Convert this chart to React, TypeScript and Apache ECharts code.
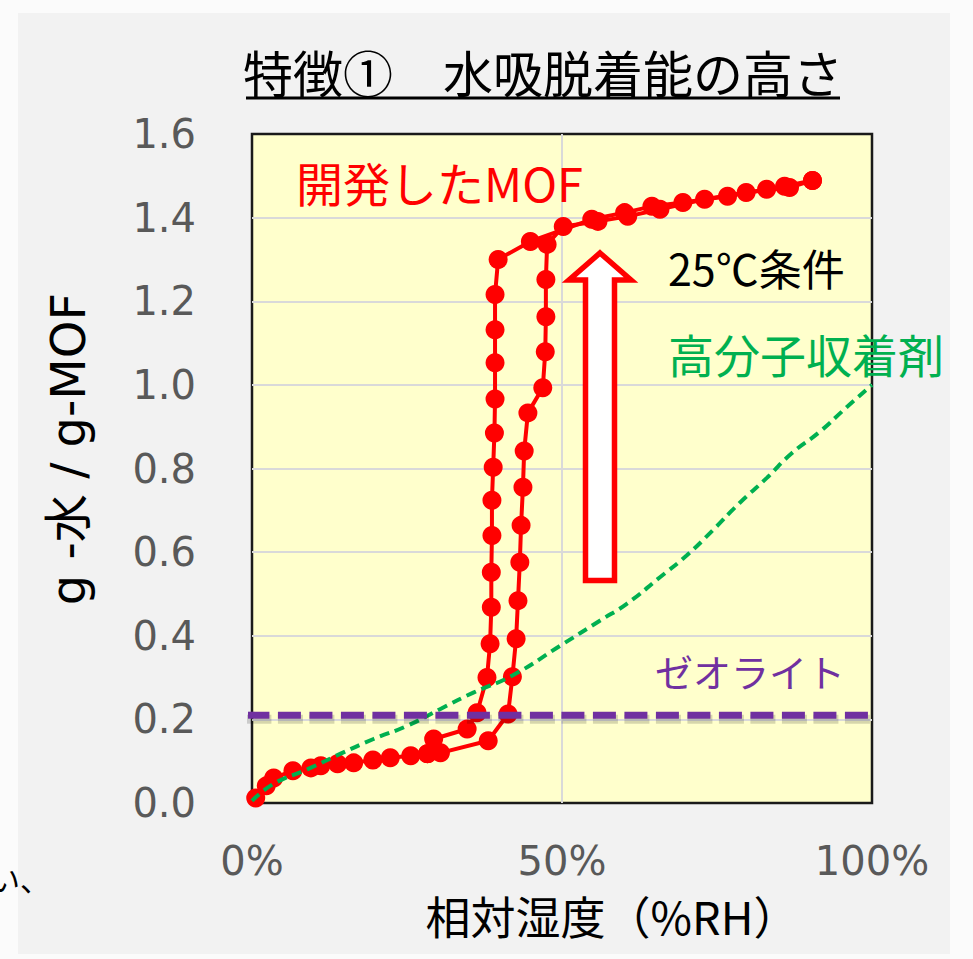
import React, { useEffect, useRef } from "react";
import * as echarts from "echarts";

// MOF adsorption branch (RH %, g-water / g-MOF)
const adsorptionRH = [0.6, 2.3, 3.5, 6.6, 9.5, 11.1, 13.8, 16.4, 19.5, 22.3, 25.6, 28.3, 30.4, 38.1, 41.3, 42.0, 42.6, 42.9, 43.2, 43.4, 43.7, 43.9, 44.5, 46.9, 47.3, 47.4, 47.4, 47.6, 50.2, 55.8, 60.6, 65.8, 73.0, 79.7, 86.7, 90.4];
const adsorptionUptake = [0.012, 0.041, 0.06, 0.077, 0.084, 0.089, 0.094, 0.096, 0.103, 0.108, 0.113, 0.118, 0.12, 0.149, 0.213, 0.302, 0.393, 0.484, 0.576, 0.664, 0.755, 0.842, 0.933, 0.993, 1.079, 1.163, 1.252, 1.336, 1.379, 1.391, 1.403, 1.42, 1.444, 1.46, 1.472, 1.489];

// MOF desorption branch
const desorptionRH = [90.4, 85.9, 83.0, 76.7, 69.5, 64.5, 60.1, 54.8, 44.9, 39.7, 39.2, 39.2, 39.2, 39.2, 39.1, 38.9, 38.7, 38.7, 38.6, 38.6, 38.4, 37.9, 36.3, 34.7, 29.3, 28.3];
const desorptionUptake = [1.489, 1.475, 1.468, 1.451, 1.436, 1.427, 1.412, 1.396, 1.343, 1.3, 1.216, 1.132, 1.053, 0.966, 0.885, 0.803, 0.724, 0.64, 0.552, 0.468, 0.381, 0.3, 0.216, 0.177, 0.153, 0.118];

// Polymer sorbent
const polymerRH = [0, 3.5, 9.0, 14.3, 19.6, 25.1, 30.4, 35.7, 42.0, 49.7, 56.1, 60.5, 65.8, 70.1, 74.3, 78.6, 83.0, 87.1, 91.5, 95.8, 100];
const polymerUptake = [0.005, 0.046, 0.081, 0.118, 0.153, 0.185, 0.225, 0.264, 0.305, 0.376, 0.436, 0.477, 0.54, 0.592, 0.652, 0.717, 0.777, 0.837, 0.887, 0.945, 1.0];

// Zeolite (flat)
const zeoliteRH = [-0.9, 100.7];
const zeoliteUptake = [0.21, 0.21];

const titleText = "特徴①　水吸脱着能の高さ";
const xAxisName = "相対湿度（%RH）";
const yAxisName = "g -水 / g-MOF";
const mofLabel = "開発したMOF";
const conditionLabel = "25℃条件";
const polymerLabel = "高分子収着剤";
const zeoliteLabel = "ゼオライト";

const zip = (xs: number[], ys: number[]) => xs.map((x, i) => [x, ys[i]]);

const CJK = '"Noto Sans CJK JP", "Noto Sans", sans-serif';
const LATIN = '"DejaVu Sans", "Noto Sans CJK JP", sans-serif';

export default function App() {
  const ref = useRef<HTMLDivElement>(null);
  useEffect(() => {
    if (!ref.current) return;
    const chart = echarts.init(ref.current, undefined, { renderer: "svg" });
    const red = "#FF0000";
    // shadow of the zeolite line, a few pixels below it (in data units of the 0-1.6 axis over 669 px)
    const shadowShift = 1.6 * 4 / 669;
    chart.setOption({
      animation: false,
      grid: {
        left: 252,
        top: 134,
        width: 620,
        height: 669,
        show: true,
        backgroundColor: "#FFFFCC",
        borderColor: "#1a1a1a",
        borderWidth: 2.5,
      },
      xAxis: {
        type: "value",
        min: 0,
        max: 100,
        interval: 50,
        axisLine: { show: false },
        axisTick: { show: false },
        splitLine: { show: true, showMinLine: false, showMaxLine: false, lineStyle: { color: "#D9D9D9", width: 2 } },
        axisLabel: { formatter: (v: number) => `${v}%`, color: "#595959", fontSize: 40, lineHeight: 36, fontFamily: LATIN, margin: 40 },
      },
      yAxis: {
        type: "value",
        min: 0,
        max: 1.6,
        interval: 0.2,
        axisLine: { show: false },
        axisTick: { show: false },
        splitLine: { show: true, showMinLine: false, showMaxLine: false, lineStyle: { color: "#D9D9D9", width: 2 } },
        axisLabel: { formatter: (v: number) => v.toFixed(1), color: "#595959", fontSize: 40, fontFamily: LATIN, margin: 56 },
      },
      series: [
        {
          type: "line",
          name: "adsorption",
          data: zip(adsorptionRH, adsorptionUptake),
          symbol: "circle",
          symbolSize: 19,
          itemStyle: { color: red },
          lineStyle: { color: red, width: 4 },
          z: 2,
        },
        {
          type: "line",
          name: "desorption",
          data: zip(desorptionRH, desorptionUptake),
          symbol: "circle",
          symbolSize: 19,
          itemStyle: { color: red },
          lineStyle: { color: red, width: 4 },
          z: 2,
        },
        {
          type: "line",
          name: "polymer",
          data: zip(polymerRH, polymerUptake),
          symbol: "none",
          smooth: 0.5,
          lineStyle: { color: "#00B050", width: 4, type: [10, 6], cap: "butt" },
          z: 3,
        },
        {
          type: "line",
          name: "zeoliteShadow",
          data: zip(zeoliteRH, zeoliteUptake.map((v) => v - shadowShift)),
          symbol: "none",
          clip: false,
          silent: true,
          lineStyle: { color: "rgba(0,0,0,0.16)", width: 9, type: [25, 6.5], cap: "butt" },
          z: 3,
        },
        {
          type: "line",
          name: "zeolite",
          data: zip(zeoliteRH, zeoliteUptake),
          symbol: "none",
          clip: false,
          lineStyle: { color: "#7030A0", width: 7, type: [23, 8.5], cap: "butt" },
          z: 4,
        },
      ],
      graphic: [
        {
          type: "text",
          x: 543,
          y: 71,
          z: 100,
          style: { text: titleText, fontSize: 50, fontFamily: CJK, fill: "#000", align: "center", verticalAlign: "middle" },
        },
        {
          type: "line",
          z: 100,
          shape: { x1: 246, y1: 98, x2: 840, y2: 98 },
          style: { stroke: "#000", lineWidth: 3 },
        },
        {
          type: "text",
          x: 68,
          y: 449,
          rotation: Math.PI / 2,
          z: 100,
          style: { text: yAxisName, fontSize: 48, fontFamily: LATIN, fill: "#000", align: "center", verticalAlign: "middle" },
        },
        {
          type: "text",
          x: 612,
          y: 915,
          z: 100,
          style: { text: xAxisName, fontSize: 45, lineHeight: 42, fontFamily: CJK, fill: "#000", align: "center", verticalAlign: "middle" },
        },
        {
          type: "text",
          x: 296,
          y: 181,
          z: 100,
          style: { text: mofLabel, fontSize: 47, fontFamily: CJK, fill: red, align: "left", verticalAlign: "middle" },
        },
        {
          type: "text",
          x: 668,
          y: 267,
          z: 100,
          style: { text: conditionLabel, fontSize: 43, fontFamily: CJK, fill: "#000", align: "left", verticalAlign: "middle" },
        },
        {
          type: "text",
          x: 668,
          y: 353,
          z: 100,
          style: { text: polymerLabel, fontSize: 46, fontFamily: CJK, fill: "#00B050", align: "left", verticalAlign: "middle" },
        },
        {
          type: "text",
          x: 655,
          y: 670,
          z: 100,
          style: { text: zeoliteLabel, fontSize: 38, fontFamily: CJK, fill: "#7030A0", align: "left", verticalAlign: "middle" },
        },
        {
          type: "polygon",
          z: 100,
          shape: {
            points: [
              [600, 253],
              [631, 280],
              [614.5, 280],
              [614.5, 580.5],
              [585.5, 580.5],
              [585.5, 280],
              [569, 280],
            ],
          },
          style: { fill: "#FFFFFF", stroke: red, lineWidth: 5.5, lineJoin: "miter" },
        },
        {
          type: "text",
          x: -10,
          y: 878,
          z: 100,
          style: { text: "い、", fontSize: 30, fontFamily: CJK, fill: "#000", align: "left", verticalAlign: "middle" },
        },
      ],
    });
    return () => chart.dispose();
  }, []);

  return (
    <div style={{ position: "absolute", left: 0, top: 0, width: 973, height: 959, background: "#FBFBFB", overflow: "hidden" }}>
      <div style={{ position: "absolute", left: 18, top: 13, width: 932, height: 941, background: "#F2F2F2" }} />
      <div ref={ref} style={{ position: "absolute", left: 0, top: 0, width: 973, height: 959 }} />
    </div>
  );
}
